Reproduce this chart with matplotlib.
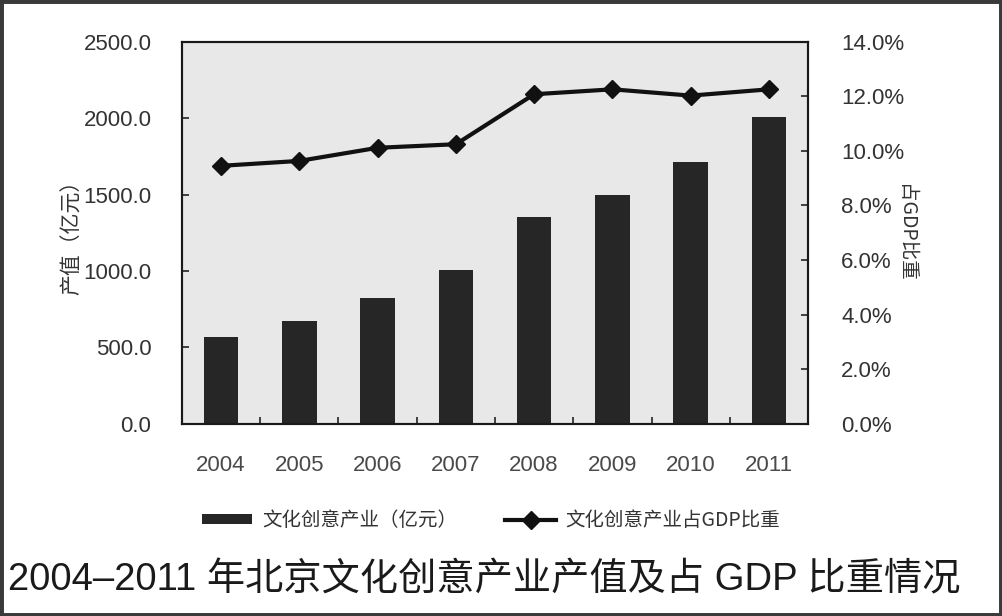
import numpy as np
import matplotlib
matplotlib.use('Agg')
import matplotlib.pyplot as plt
from matplotlib.patches import Rectangle
from matplotlib.ticker import FuncFormatter, FixedLocator

plt.rcParams['font.family'] = ['Liberation Sans', 'Noto Sans CJK SC', 'DejaVu Sans']

# 数据
years = ['2004', '2005', '2006', '2007', '2008', '2009', '2010', '2011']
output_value = [567, 675, 826, 1007, 1355, 1497, 1714, 2005]   # 亿元
gdp_share = [9.45, 9.63, 10.11, 10.24, 12.07, 12.25, 12.02, 12.25]  # %

cjk = ['Noto Sans CJK SC', 'DejaVu Sans']
text_color = '#333333'

fig = plt.figure(figsize=(10.02, 6.16), dpi=100)
fig.patch.set_facecolor('white')
ax = fig.add_axes([0.1816, 0.3117, 0.6248, 0.6209])
ax.set_facecolor('#e8e8e8')

x = np.arange(len(years))
bars = ax.bar(x, output_value, width=0.44, color='#262626', zorder=2,
              label='文化创意产业（亿元）')
ax.set_xlim(-0.5, len(years) - 0.5)
ax.set_ylim(0, 2500)
ax.set_yticks(np.arange(0, 2501, 500))
ax.yaxis.set_major_formatter(FuncFormatter(lambda v, p: '%.1f' % v))
ax.set_xticks(x)
ax.set_xticklabels(years)
ax.xaxis.set_minor_locator(FixedLocator(x[:-1] + 0.5))
ax.tick_params(axis='x', which='major', length=0, pad=22, labelsize=16, labelcolor='#4a4a4a')
ax.tick_params(axis='x', which='minor', direction='in', length=5, width=1.2, color='#222222')
ax.tick_params(axis='y', direction='in', length=5, width=1.2, pad=22, labelsize=16,
               labelcolor=text_color, color='#222222')
ax.set_ylabel('产值（亿元）', family=cjk, fontsize=15, color='#333333', labelpad=0)

ax2 = ax.twinx()
line, = ax2.plot(x, gdp_share, color='#111111', lw=3, marker='D', markersize=9,
                 zorder=3, label='文化创意产业占GDP比重')
ax2.set_ylim(0, 14)
ax2.set_yticks(np.arange(0, 14.1, 2))
ax2.yaxis.set_major_formatter(FuncFormatter(lambda v, p: '%.1f%%' % v))
ax2.tick_params(axis='y', direction='in', length=5, width=1.2, pad=24, labelsize=16,
                labelcolor=text_color, color='#222222')
ax2.set_ylabel('占GDP比重', family=cjk, fontsize=14, color='#333333', rotation=270,
               labelpad=8)

for a in (ax, ax2):
    for s in a.spines.values():
        s.set_linewidth(1.5)
        s.set_color('#1a1a1a')

leg = fig.legend(handles=[bars, line], loc='center', bbox_to_anchor=(0.49, 0.155), ncol=2,
                 frameon=False, prop={'family': cjk, 'size': 14}, handlelength=2.6,
                 handleheight=0.45, columnspacing=2.5, handletextpad=0.5,
                 labelcolor='#333333')

fig.text(0.483, 0.058, '2004–2011 年北京文化创意产业产值及占 GDP 比重情况',
         ha='center', va='center', fontsize=27.5, color='#1a1a1a',
         family=['Liberation Sans', 'Noto Sans CJK SC'])

# 外框
fig.patches.append(Rectangle((0, 0), 1, 1, transform=fig.transFigure, fill=False,
                             edgecolor='#3a3a3a', linewidth=5, zorder=10))

fig.savefig('out.png', dpi=100)
